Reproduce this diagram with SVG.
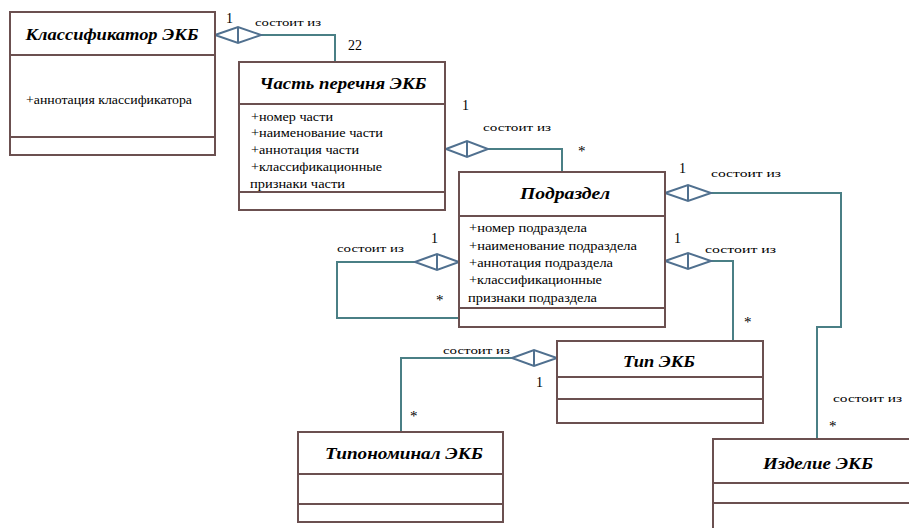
<svg xmlns="http://www.w3.org/2000/svg" width="909" height="528" viewBox="0 0 909 528" font-family="Liberation Serif, Times New Roman, serif">
<style>
.box{fill:#fff;stroke:#6b5050;stroke-width:2}
.sep{stroke:#6b5050;stroke-width:2}
.title{font-style:italic;font-weight:bold;font-size:17px;text-anchor:middle}
.attr{font-size:11.5px}
.lbl{font-size:10.5px}
.mult{font-size:14px}
.star{font-size:15px}
.conn{fill:none;stroke:#4a7f85;stroke-width:2}
.dia{fill:#fff;stroke:#50708f;stroke-width:2}
</style>
<rect width="909" height="528" fill="#fff"/>
<g id="connectors">
<polyline class="conn" points="261,35 335,35 335,62"/>
<polyline class="conn" points="488,149 562,149 562,172"/>
<polyline class="conn" points="415,262 337,262 337,318 459,318"/>
<polyline class="conn" points="711,193 841,193 841,327 817,327 817,439"/>
<polyline class="conn" points="711,261 733,261 733,341"/>
<polyline class="conn" points="512,358 401,358 401,432"/>
<polygon class="dia" points="215,35 238,27 261,35 238,43"/><line class="dia" x1="238" y1="27" x2="238" y2="43"/>
<polygon class="dia" points="446,149 467,141 488,149 467,157"/><line class="dia" x1="467" y1="141" x2="467" y2="157"/>
<polygon class="dia" points="415,262 437,254 459,262 437,270"/><line class="dia" x1="437" y1="254" x2="437" y2="270"/>
<polygon class="dia" points="665,193 688,185 711,193 688,201"/><line class="dia" x1="688" y1="185" x2="688" y2="201"/>
<polygon class="dia" points="665,261 688,253 711,261 688,269"/><line class="dia" x1="688" y1="253" x2="688" y2="269"/>
<polygon class="dia" points="512,358 534,350 557,358 534,366"/><line class="dia" x1="534" y1="350" x2="534" y2="366"/>
<text class="mult" x="226" y="23">1</text>
<text class="lbl" x="255" y="26" textLength="66" lengthAdjust="spacingAndGlyphs">состоит из</text>
<text class="mult" x="348" y="50">22</text>
<text class="mult" x="462" y="110">1</text>
<text class="lbl" x="483" y="131" textLength="68" lengthAdjust="spacingAndGlyphs">состоит из</text>
<text class="star" x="578" y="156">*</text>
<text class="mult" x="431" y="243">1</text>
<text class="lbl" x="337" y="252" textLength="67" lengthAdjust="spacingAndGlyphs">состоит из</text>
<text class="star" x="436" y="305">*</text>
<text class="mult" x="679" y="173">1</text>
<text class="lbl" x="711" y="177" textLength="70" lengthAdjust="spacingAndGlyphs">состоит из</text>
<text class="mult" x="674" y="243">1</text>
<text class="lbl" x="705" y="253" textLength="71" lengthAdjust="spacingAndGlyphs">состоит из</text>
<text class="star" x="744" y="327">*</text>
<text class="lbl" x="833" y="402" textLength="69" lengthAdjust="spacingAndGlyphs">состоит из</text>
<text class="star" x="829" y="431">*</text>
<text class="lbl" x="443" y="354" textLength="67" lengthAdjust="spacingAndGlyphs">состоит из</text>
<text class="mult" x="536" y="387">1</text>
<text class="star" x="410" y="421">*</text>
</g>
<g id="klassifikator">
<rect class="box" x="10" y="12" width="205" height="143"/>
<line class="sep" x1="10" y1="55" x2="215" y2="55"/>
<line class="sep" x1="10" y1="137" x2="215" y2="137"/>
<text class="title" x="112" y="40" textLength="173" lengthAdjust="spacingAndGlyphs">Классификатор ЭКБ</text>
<text class="attr" x="26" y="104" textLength="166" lengthAdjust="spacingAndGlyphs">+аннотация классификатора</text>
</g>
<g id="chast">
<rect class="box" x="239" y="62" width="206" height="148"/>
<line class="sep" x1="239" y1="104" x2="445" y2="104"/>
<line class="sep" x1="239" y1="192" x2="445" y2="192"/>
<text class="title" x="343" y="89" textLength="167" lengthAdjust="spacingAndGlyphs">Часть перечня ЭКБ</text>
<text class="attr" x="251" y="121" textLength="82" lengthAdjust="spacingAndGlyphs">+номер части</text>
<text class="attr" x="251" y="137" textLength="132" lengthAdjust="spacingAndGlyphs">+наименование части</text>
<text class="attr" x="251" y="154" textLength="108" lengthAdjust="spacingAndGlyphs">+аннотация части</text>
<text class="attr" x="251" y="171" textLength="131" lengthAdjust="spacingAndGlyphs">+классификационные</text>
<text class="attr" x="250" y="188" textLength="95" lengthAdjust="spacingAndGlyphs">признаки части</text>
</g>
<g id="podrazdel">
<rect class="box" x="459" y="172" width="206" height="155"/>
<line class="sep" x1="459" y1="216" x2="665" y2="216"/>
<line class="sep" x1="459" y1="308" x2="665" y2="308"/>
<text class="title" x="565" y="199" textLength="90" lengthAdjust="spacingAndGlyphs">Подраздел</text>
<text class="attr" x="469" y="232" textLength="118" lengthAdjust="spacingAndGlyphs">+номер подраздела</text>
<text class="attr" x="469" y="250" textLength="168" lengthAdjust="spacingAndGlyphs">+наименование подраздела</text>
<text class="attr" x="469" y="267" textLength="144" lengthAdjust="spacingAndGlyphs">+аннотация подраздела</text>
<text class="attr" x="469" y="284" textLength="133" lengthAdjust="spacingAndGlyphs">+классификационные</text>
<text class="attr" x="468" y="302" textLength="129" lengthAdjust="spacingAndGlyphs">признаки подраздела</text>
</g>
<g id="tip">
<rect class="box" x="557" y="341" width="206" height="82"/>
<line class="sep" x1="557" y1="377" x2="763" y2="377"/>
<line class="sep" x1="557" y1="399" x2="763" y2="399"/>
<text class="title" x="659" y="367" textLength="72" lengthAdjust="spacingAndGlyphs">Тип ЭКБ</text>
</g>
<g id="tiponominal">
<rect class="box" x="298" y="432" width="205" height="90"/>
<line class="sep" x1="298" y1="474" x2="503" y2="474"/>
<line class="sep" x1="298" y1="504" x2="503" y2="504"/>
<text class="title" x="404" y="459" textLength="158" lengthAdjust="spacingAndGlyphs">Типономинал ЭКБ</text>
</g>
<g id="izdelie">
<rect class="box" x="713" y="439" width="220" height="120"/>
<line class="sep" x1="713" y1="483" x2="933" y2="483"/>
<line class="sep" x1="713" y1="503" x2="933" y2="503"/>
<text class="title" x="818" y="469" textLength="110" lengthAdjust="spacingAndGlyphs">Изделие ЭКБ</text>
</g>
</svg>
